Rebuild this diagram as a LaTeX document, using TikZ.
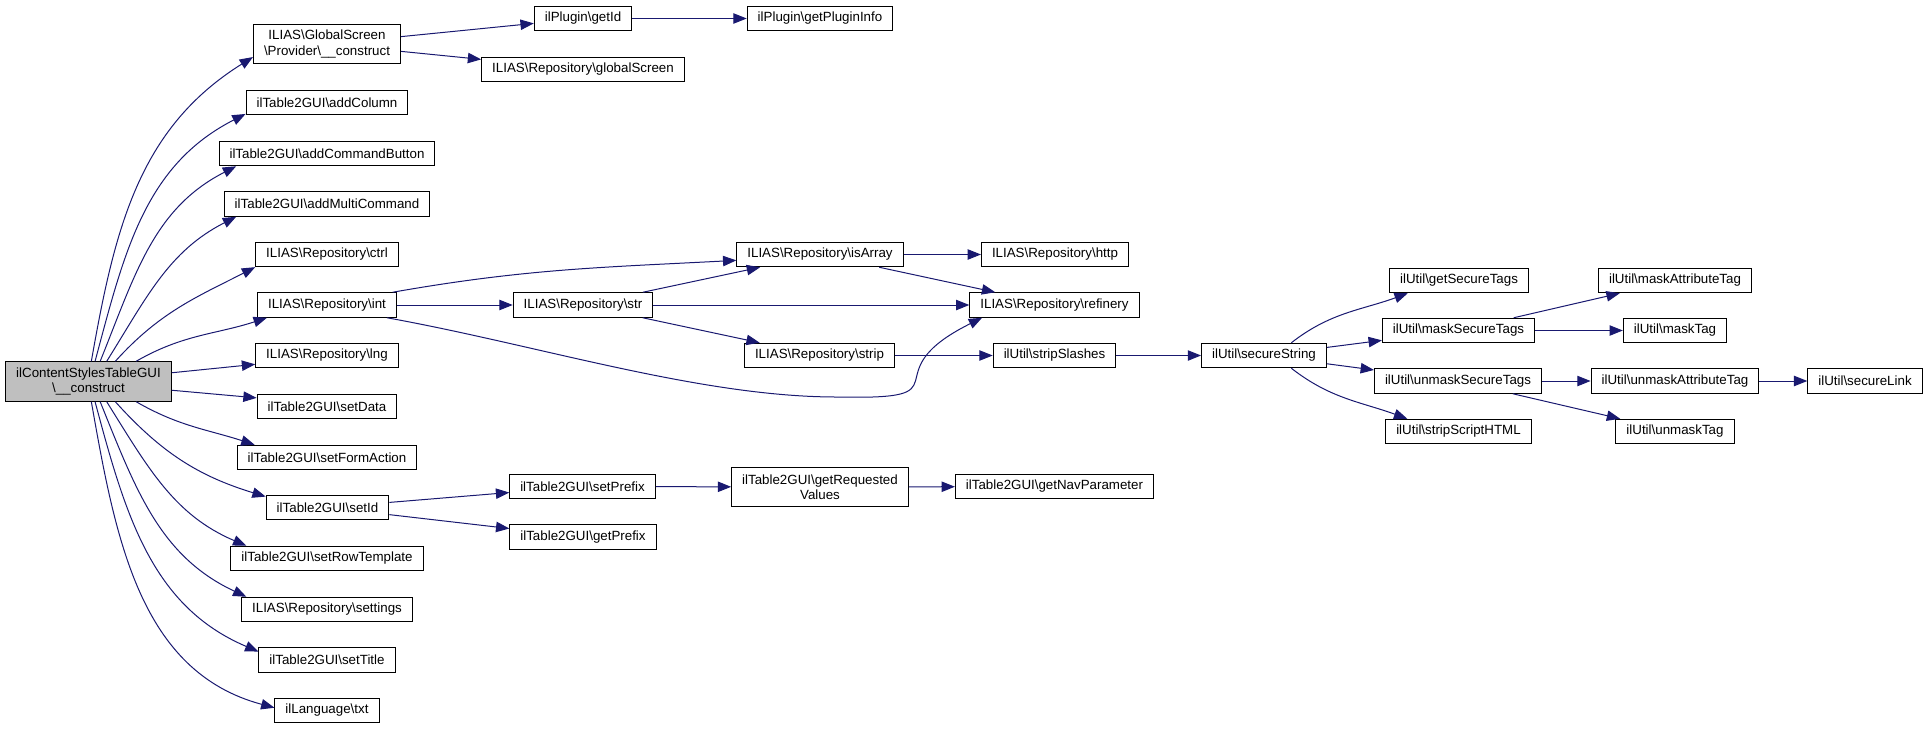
\documentclass[tikz,border=0pt]{standalone}
\usepackage{fontspec}
\setmainfont{Liberation Sans}
\usepackage{xcolor}
\usepackage{tikz}
\usetikzlibrary{arrows.meta}

\definecolor{edgeblue}{HTML}{191970}
\definecolor{maingray}{HTML}{BFBFBF}
\newcommand{\bsl}{\textbackslash}

\begin{document}
\begin{tikzpicture}[
    x=0.75pt, y=-0.75pt,
    box/.style={rectangle, draw=black, line width=0.75pt, fill=white, font=\fontsize{10}{11.5}\selectfont, inner xsep=7.9pt, inner ysep=2pt, minimum height=18.4pt, align=center},
    twoline/.style={box, minimum height=29.6pt},
    mainbox/.style={twoline, fill=maingray},
    arrow/.style={-{Triangle[length=10pt, width=7.8pt]}, draw=edgeblue, line width=0.75pt}
]
\useasboundingbox (0,0) rectangle (1928,729);

% Caller
\node[mainbox] (main) at (88.5,381.5) {ilContentStylesTableGUI\\\bsl\_\_construct};

% First level
\node[twoline] (prov) at (327,44) {ILIAS\bsl GlobalScreen\\\bsl Provider\bsl\_\_construct};
\node[box] (addColumn) at (327,102.5) {ilTable2GUI\bsl addColumn};
\node[box] (addCmdButton) at (327,153.5) {ilTable2GUI\bsl addCommandButton};
\node[box] (addMultiCmd) at (327,204) {ilTable2GUI\bsl addMultiCommand};
\node[box] (ctrl) at (327,254.5) {ILIAS\bsl Repository\bsl ctrl};
\node[box] (int) at (327,305) {ILIAS\bsl Repository\bsl int};
\node[box] (lng) at (327,355.5) {ILIAS\bsl Repository\bsl lng};
\node[box] (setData) at (327,406.5) {ilTable2GUI\bsl setData};
\node[box] (setFormAction) at (327,457.5) {ilTable2GUI\bsl setFormAction};
\node[box] (setId) at (327.5,507.5) {ilTable2GUI\bsl setId};
\node[box] (setRowTemplate) at (327,558.5) {ilTable2GUI\bsl setRowTemplate};
\node[box] (settings) at (327,609.5) {ILIAS\bsl Repository\bsl settings};
\node[box] (setTitle) at (327,660) {ilTable2GUI\bsl setTitle};
\node[box] (txt) at (327,710.5) {ilLanguage\bsl txt};

% Second level
\node[box] (getId) at (583,18.5) {ilPlugin\bsl getId};
\node[box] (globalScreen) at (583,69.5) {ILIAS\bsl Repository\bsl globalScreen};
\node[box] (str) at (583,305) {ILIAS\bsl Repository\bsl str};
\node[box] (setPrefix) at (582.5,486.5) {ilTable2GUI\bsl setPrefix};
\node[box] (getPrefix) at (583,537) {ilTable2GUI\bsl getPrefix};

% Third level
\node[box] (pluginInfo) at (820,18.5) {ilPlugin\bsl getPluginInfo};
\node[box] (isArray) at (820,254.5) {ILIAS\bsl Repository\bsl isArray};
\node[box] (strip) at (819.5,355.5) {ILIAS\bsl Repository\bsl strip};
\node[twoline] (requested) at (820,487) {ilTable2GUI\bsl getRequested\\Values};

% Fourth level
\node[box] (http) at (1055,254.5) {ILIAS\bsl Repository\bsl http};
\node[box] (refinery) at (1054.5,305) {ILIAS\bsl Repository\bsl refinery};
\node[box] (stripSlashes) at (1054.5,355.5) {ilUtil\bsl stripSlashes};
\node[box] (navParam) at (1054.5,486.5) {ilTable2GUI\bsl getNavParameter};

% ilUtil chain
\node[box] (secureString) at (1264,355.5) {ilUtil\bsl secureString};
\node[box] (getSecureTags) at (1459,280.5) {ilUtil\bsl getSecureTags};
\node[box] (maskSecureTags) at (1458.5,330.5) {ilUtil\bsl maskSecureTags};
\node[box] (unmaskSecureTags) at (1458,381) {ilUtil\bsl unmaskSecureTags};
\node[box] (stripScript) at (1458.5,431.5) {ilUtil\bsl stripScriptHTML};
\node[box] (maskAttr) at (1675,280.5) {ilUtil\bsl maskAttributeTag};
\node[box] (maskTag) at (1675,330.5) {ilUtil\bsl maskTag};
\node[box] (unmaskAttr) at (1675,381) {ilUtil\bsl unmaskAttributeTag};
\node[box] (unmaskTag) at (1675,431.5) {ilUtil\bsl unmaskTag};
\node[box] (secureLink) at (1865,381) {ilUtil\bsl secureLink};

% Calls from the caller
\draw[arrow] (main.82) to[out=80,in=212] (prov.190);
\draw[arrow] (main.72) to[out=75,in=207] (addColumn.188);
\draw[arrow] (main.60) to[out=68,in=207] (addCmdButton.188);
\draw[arrow] (main.48) to[out=58,in=207] (addMultiCmd.188);
\draw[arrow] (main.37) to[out=48,in=207] (ctrl.190);
\draw[arrow] (main.23) to[out=30,in=198] (int.192);
\draw[arrow] (main.6) -- (lng.187);
\draw[arrow] (main.-6) -- (setData.173);
\draw[arrow] (main.-23) to[out=-30,in=162] (setFormAction.170);
\draw[arrow] (main.-37) to[out=-48,in=163] (setId.170);
\draw[arrow] (main.-48) to[out=-58,in=157] (setRowTemplate.171);
\draw[arrow] (main.-60) to[out=-68,in=155] (settings.171);
\draw[arrow] (main.-72) to[out=-75,in=157] (setTitle.173);
\draw[arrow] (main.-82) to[out=-80,in=165] (txt.177);

% Deeper calls
\draw[arrow] (prov) -- (getId);
\draw[arrow] (prov) -- (globalScreen);
\draw[arrow] (getId) -- (pluginInfo);
\draw[arrow] (int.11) to[out=10,in=183] (isArray.184);
\draw[arrow] (int) -- (str);
\draw[arrow] (int.-12) .. controls (538,345) and (700,397) .. (837,397)
    .. controls (972,400) and (867,375) .. (refinery.190);
\draw[arrow] (str) -- (isArray);
\draw[arrow] (str) -- (refinery);
\draw[arrow] (str) -- (strip);
\draw[arrow] (isArray) -- (http);
\draw[arrow] (isArray) -- (refinery);
\draw[arrow] (strip) -- (stripSlashes);
\draw[arrow] (stripSlashes) -- (secureString);
\draw[arrow] (secureString.25) to[out=38,in=200] (getSecureTags.194);
\draw[arrow] (secureString) -- (maskSecureTags);
\draw[arrow] (secureString) -- (unmaskSecureTags);
\draw[arrow] (secureString.-25) to[out=-38,in=160] (stripScript.166);
\draw[arrow] (maskSecureTags) -- (maskAttr);
\draw[arrow] (maskSecureTags) -- (maskTag);
\draw[arrow] (unmaskSecureTags) -- (unmaskAttr);
\draw[arrow] (unmaskSecureTags) -- (unmaskTag);
\draw[arrow] (unmaskAttr) -- (secureLink);
\draw[arrow] (setId) -- (setPrefix);
\draw[arrow] (setId) -- (getPrefix);
\draw[arrow] (setPrefix) -- (requested);
\draw[arrow] (requested) -- (navParam);

\end{tikzpicture}
\end{document}
